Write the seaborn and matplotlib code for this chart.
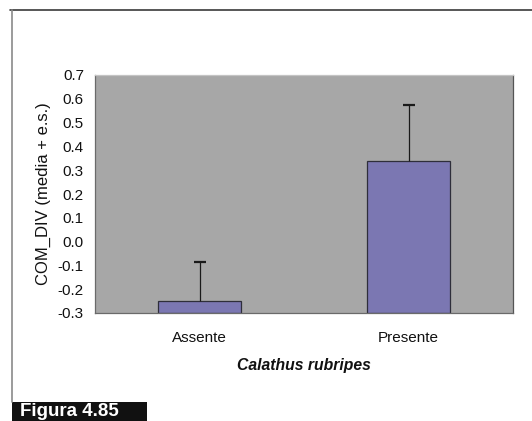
import numpy as np
import pandas as pd
import matplotlib
matplotlib.use("Agg")
import matplotlib.pyplot as plt
from matplotlib.patches import Rectangle
from matplotlib.lines import Line2D
import seaborn as sns

# Mean COM_DIV with standard error, by presence of Calathus rubripes
categories = ["Assente", "Presente"]
means = [-0.25, 0.337]
std_errors = [0.165, 0.237]
y_ticks = [-0.3, -0.2, -0.1, 0.0, 0.1, 0.2, 0.3, 0.4, 0.5, 0.6, 0.7]
y_min, y_max = -0.3, 0.7

sns.set_theme(style="white")
plt.rcParams["font.family"] = ["Liberation Sans", "DejaVu Sans"]

df = pd.DataFrame({"presenza": categories, "com_div": means})

fig = plt.figure(figsize=(5.32, 4.21), dpi=100)
ax = fig.add_axes([95 / 532, 1 - 313 / 421, 418 / 532, 238 / 421])
ax.set_facecolor("#a7a7a7")

sns.barplot(data=df, x="presenza", y="com_div", ax=ax, color="#7b77b2",
            saturation=1, width=0.4, edgecolor="#2e2e3a", linewidth=0.9,
            errorbar=None)

# Bars rise from the bottom of the value axis, where the category axis crosses
for patch, value in zip(ax.patches, means):
    patch.set_y(y_min)
    patch.set_height(value - y_min)

# One-sided error bars (mean + s.e.)
xpos = np.arange(len(categories))
eb = ax.errorbar(xpos, means, yerr=[np.zeros(len(means)), std_errors],
                 fmt="none", ecolor="#1a1a1a", elinewidth=0.9,
                 capsize=4, capthick=1.6)
eb[1][0].set_visible(False)

ax.set_ylim(y_min, y_max)
ax.set_xlim(-0.5, 1.5)
ax.set_yticks(y_ticks)
ax.set_yticklabels([f"{t:.1f}" for t in y_ticks])
ax.tick_params(axis="both", length=0, labelsize=11, colors="#111111")
ax.tick_params(axis="y", pad=8)
ax.tick_params(axis="x", pad=13)

ax.set_xlabel("Calathus rubripes", fontsize=11.3, fontweight="bold",
              fontstyle="italic", color="#111111", labelpad=9)
ax.set_ylabel("COM_DIV (media + e.s.)", fontsize=12, color="#111111",
              labelpad=5)

for side, spine in ax.spines.items():
    spine.set_visible(True)
    spine.set_linewidth(0.9)
    spine.set_color("#6a6a6a")
ax.spines["right"].set_color("#555555")
ax.spines["top"].set_color("#c4c4c4")

# Page frame lines
fig.add_artist(Line2D([10 / 532, 1.0], [1 - 10 / 421, 1 - 10 / 421],
                      transform=fig.transFigure, color="#3a3a3a", lw=1.2))
fig.add_artist(Line2D([11.5 / 532, 11.5 / 532], [1 - 10 / 421, 1 - 402 / 421],
                      transform=fig.transFigure, color="#8a8a8a", lw=1.2))

# Figure caption box
fig.add_artist(Rectangle((12 / 532, 0), 135 / 532, 19 / 421,
                         transform=fig.transFigure, facecolor="#111111",
                         edgecolor="none"))
fig.text(20 / 532, 1 / 421, "Figura 4.85", color="white", fontsize=13.5,
         fontweight="bold", ha="left", va="bottom")

fig.savefig("out.png", dpi=100)
